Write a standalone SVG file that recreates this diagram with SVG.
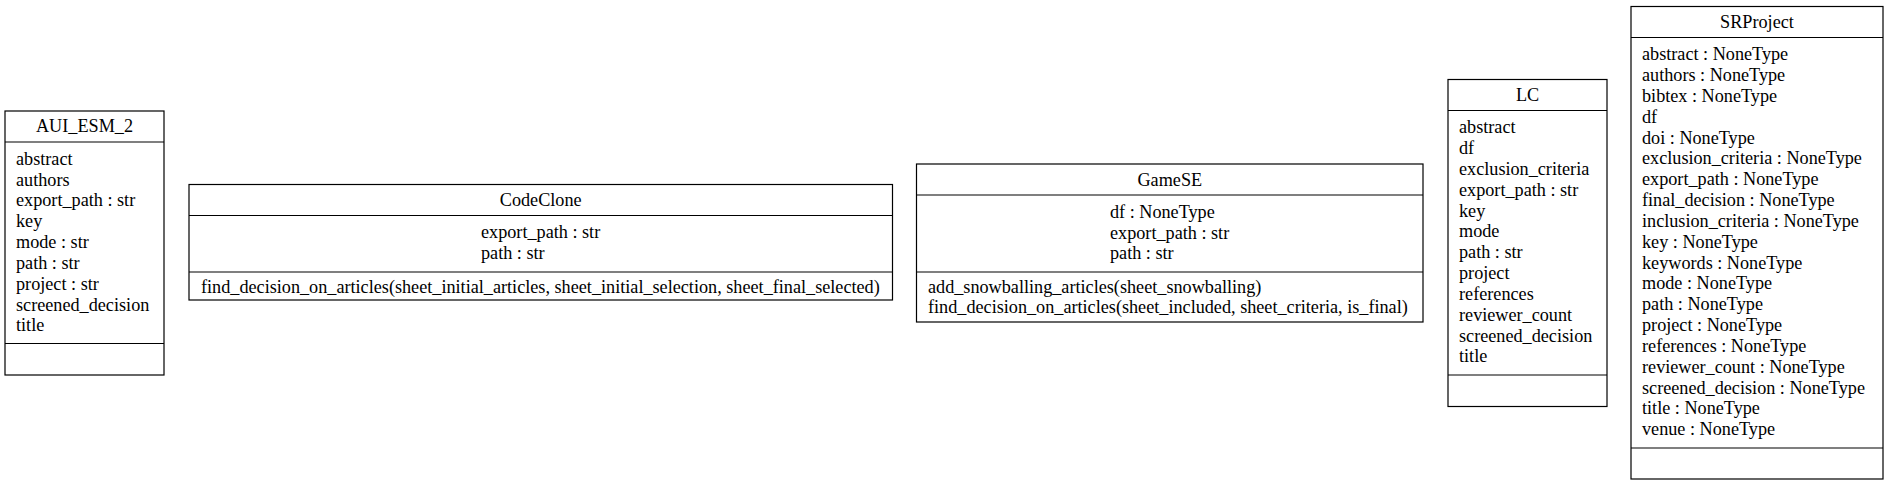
<svg xmlns="http://www.w3.org/2000/svg" width="1889" height="485" viewBox="0 0 1889 485">
<style>
.box{fill:none;stroke:#000;stroke-width:1.2}
.ln{stroke:#000;stroke-width:1.2}
text{font-family:"Liberation Serif","Times New Roman",serif;font-size:18.2px;fill:#000}
.c{text-anchor:middle}
</style>
<rect x="0" y="0" width="1889" height="485" fill="#fff"/>
<g id="connectors"></g>
<g id="AUI_ESM_2">
<rect class="box" x="5" y="111" width="159" height="264"/>
<line class="ln" x1="5" y1="142" x2="164" y2="142"/>
<line class="ln" x1="5" y1="343.5" x2="164" y2="343.5"/>
<text class="c" x="84.5" y="132">AUI_ESM_2</text>
<text x="16" y="164.7">abstract</text>
<text x="16" y="185.5">authors</text>
<text x="16" y="206.4">export_path : str</text>
<text x="16" y="227.2">key</text>
<text x="16" y="248">mode : str</text>
<text x="16" y="268.9">path : str</text>
<text x="16" y="289.7">project : str</text>
<text x="16" y="310.5">screened_decision</text>
<text x="16" y="331.3">title</text>
</g>
<g id="CodeClone">
<rect class="box" x="189" y="184.5" width="703.5" height="115.5"/>
<line class="ln" x1="189" y1="215.5" x2="892.5" y2="215.5"/>
<line class="ln" x1="189" y1="272" x2="892.5" y2="272"/>
<text class="c" x="540.7" y="206">CodeClone</text>
<text x="481" y="238.2">export_path : str</text>
<text x="481" y="259">path : str</text>
<text x="201" y="292.5">find_decision_on_articles(sheet_initial_articles, sheet_initial_selection, sheet_final_selected)</text>
</g>
<g id="GameSE">
<rect class="box" x="916.5" y="164" width="506.5" height="158"/>
<line class="ln" x1="916.5" y1="195" x2="1423" y2="195"/>
<line class="ln" x1="916.5" y1="272" x2="1423" y2="272"/>
<text class="c" x="1169.8" y="185.5">GameSE</text>
<text x="1110" y="217.7">df : NoneType</text>
<text x="1110" y="238.5">export_path : str</text>
<text x="1110" y="259.3">path : str</text>
<text x="928" y="292.5">add_snowballing_articles(sheet_snowballing)</text>
<text x="928" y="313.3">find_decision_on_articles(sheet_included, sheet_criteria, is_final)</text>
</g>
<g id="LC">
<rect class="box" x="1448" y="79.5" width="159" height="327"/>
<line class="ln" x1="1448" y1="110.5" x2="1607" y2="110.5"/>
<line class="ln" x1="1448" y1="375" x2="1607" y2="375"/>
<text class="c" x="1527.5" y="101">LC</text>
<text x="1459" y="133.2">abstract</text>
<text x="1459" y="154">df</text>
<text x="1459" y="174.9">exclusion_criteria</text>
<text x="1459" y="195.7">export_path : str</text>
<text x="1459" y="216.5">key</text>
<text x="1459" y="237.4">mode</text>
<text x="1459" y="258.2">path : str</text>
<text x="1459" y="279">project</text>
<text x="1459" y="299.8">references</text>
<text x="1459" y="320.7">reviewer_count</text>
<text x="1459" y="341.5">screened_decision</text>
<text x="1459" y="362.3">title</text>
</g>
<g id="SRProject">
<rect class="box" x="1631" y="6.5" width="252" height="472.5"/>
<line class="ln" x1="1631" y1="37.5" x2="1883" y2="37.5"/>
<line class="ln" x1="1631" y1="448" x2="1883" y2="448"/>
<text class="c" x="1757" y="28">SRProject</text>
<text x="1642" y="60.2">abstract : NoneType</text>
<text x="1642" y="81">authors : NoneType</text>
<text x="1642" y="101.9">bibtex : NoneType</text>
<text x="1642" y="122.7">df</text>
<text x="1642" y="143.5">doi : NoneType</text>
<text x="1642" y="164.4">exclusion_criteria : NoneType</text>
<text x="1642" y="185.2">export_path : NoneType</text>
<text x="1642" y="206">final_decision : NoneType</text>
<text x="1642" y="226.8">inclusion_criteria : NoneType</text>
<text x="1642" y="247.7">key : NoneType</text>
<text x="1642" y="268.5">keywords : NoneType</text>
<text x="1642" y="289.3">mode : NoneType</text>
<text x="1642" y="310.2">path : NoneType</text>
<text x="1642" y="331">project : NoneType</text>
<text x="1642" y="351.8">references : NoneType</text>
<text x="1642" y="372.6">reviewer_count : NoneType</text>
<text x="1642" y="393.5">screened_decision : NoneType</text>
<text x="1642" y="414.3">title : NoneType</text>
<text x="1642" y="435.1">venue : NoneType</text>
</g>
</svg>
